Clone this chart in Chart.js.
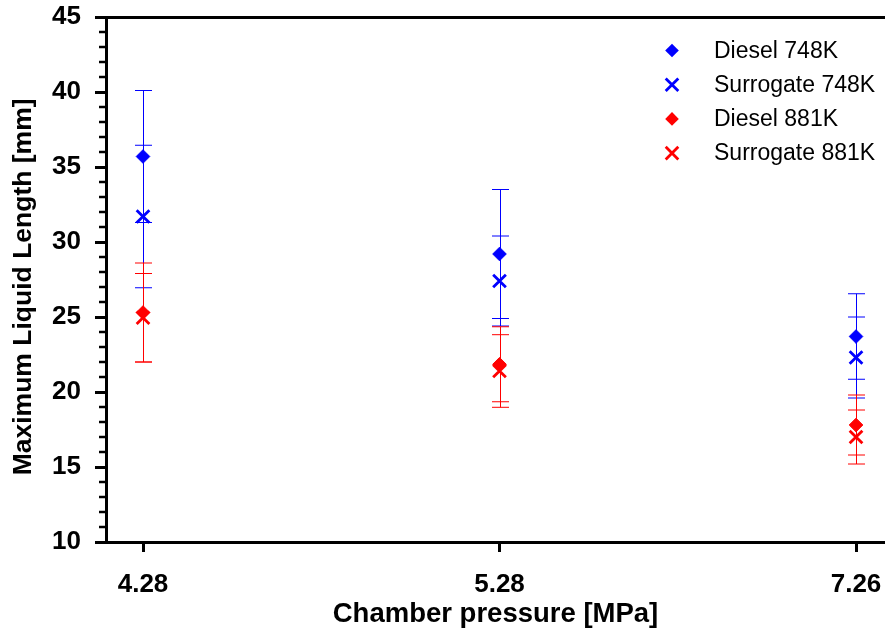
<!DOCTYPE html>
<html>
<head>
<meta charset="utf-8">
<script src="https://cdn.jsdelivr.net/npm/chart.js@4/dist/chart.umd.min.js"></script>
<style>
  html, body { margin: 0; padding: 0; background: #fff; overflow: hidden; }
  #wrap { width: 885px; height: 633px; }
  canvas { display: block; }
</style>
</head>
<body>
<div id="wrap"><canvas id="c" width="885" height="633"></canvas></div>
<script>
// Chamber pressures (categories on the x axis)
const pressureLabels = ['4.28', '5.28', '7.26'];

// Maximum liquid length [mm] and its standard deviation, per fuel / ambient temperature
const diesel748 = [35.7, 29.2, 23.7];
const diesel748Err = [4.4, 4.3, 2.85];
const surrogate748 = [31.7, 27.4, 22.3];
const surrogate748Err = [4.75, 3.0, 2.7];
const diesel881 = [25.3, 21.85, 17.8];
const diesel881Err = [3.3, 2.5, 2.0];
const surrogate881 = [24.95, 21.4, 17.0];
const surrogate881Err = [2.95, 2.42, 1.8];

const FONT = "'Liberation Sans', Arial, Helvetica, sans-serif";
const BLUE = '#0000ff';
const RED = '#ff0000';

function toPoints(values) {
  return values.map((v, i) => ({ x: i, y: v }));
}

function series(label, values, errors, color, style) {
  const diamond = style === 'rectRot';
  return {
    label,
    data: toPoints(values),
    errors,
    showLine: false,
    pointStyle: style,
    pointRadius: diamond ? 6.8 : 9,
    pointHoverRadius: diamond ? 6.8 : 9,
    pointBorderWidth: diamond ? 1 : 2.8,
    pointBackgroundColor: color,
    pointBorderColor: color,
    borderColor: color,
    backgroundColor: color
  };
}

// Vertical error bars with caps, drawn beneath the markers
const errorBars = {
  id: 'errorBars',
  beforeDatasetsDraw(chart) {
    const { ctx, scales: { x, y } } = chart;
    const cap = 8.5;
    ctx.save();
    ctx.lineWidth = 1;
    chart.data.datasets.forEach((ds) => {
      ctx.strokeStyle = ds.borderColor;
      ds.data.forEach((p, j) => {
        const e = ds.errors[j];
        // keep the 1px stems on whole device pixels
        const px = Math.round(x.getPixelForValue(p.x)) + 0.5;
        const top = y.getPixelForValue(p.y + e);
        const bot = y.getPixelForValue(p.y - e);
        ctx.beginPath();
        ctx.moveTo(px, top); ctx.lineTo(px, bot);
        ctx.moveTo(px - cap, top); ctx.lineTo(px + cap, top);
        ctx.moveTo(px - cap, bot); ctx.lineTo(px + cap, bot);
        ctx.stroke();
      });
    });
    ctx.restore();
  }
};

// Minor ticks (every 1 mm) on the left axis
const minorTicks = {
  id: 'minorTicks',
  afterDraw(chart) {
    const { ctx, scales: { y } } = chart;
    const x0 = chart.chartArea.left;
    ctx.save();
    ctx.strokeStyle = '#000';
    ctx.lineWidth = 2.5;
    for (let v = y.min + 1; v < y.max; v++) {
      if (v % 5 === 0) continue;
      const py = y.getPixelForValue(v);
      ctx.beginPath();
      ctx.moveTo(x0 - 7, py);
      ctx.lineTo(x0, py);
      ctx.stroke();
    }
    ctx.restore();
  }
};

// Legend in the upper right corner of the plot
const cornerLegend = {
  id: 'cornerLegend',
  afterDraw(chart) {
    const { ctx } = chart;
    const mx = 672, tx = 714, y0 = 50.5, dy = 34.2;
    ctx.save();
    ctx.font = '23px ' + FONT;
    ctx.textBaseline = 'middle';
    ctx.textAlign = 'left';
    chart.data.datasets.forEach((ds, i) => {
      const cy = y0 + i * dy;
      const c = ds.borderColor;
      ctx.fillStyle = c;
      ctx.strokeStyle = c;
      if (ds.pointStyle === 'rectRot') {
        const r = 6.8;
        ctx.beginPath();
        ctx.moveTo(mx, cy - r); ctx.lineTo(mx + r, cy);
        ctx.lineTo(mx, cy + r); ctx.lineTo(mx - r, cy);
        ctx.closePath();
        ctx.fill();
      } else {
        const r = 6.3;
        ctx.lineWidth = 2.8;
        ctx.beginPath();
        ctx.moveTo(mx - r, cy - r); ctx.lineTo(mx + r, cy + r);
        ctx.moveTo(mx + r, cy - r); ctx.lineTo(mx - r, cy + r);
        ctx.stroke();
      }
      ctx.fillStyle = '#000';
      ctx.fillText(ds.label, tx, cy + 1);
    });
    ctx.restore();
  }
};

new Chart(document.getElementById('c'), {
  type: 'scatter',
  data: {
    datasets: [
      series('Diesel 748K', diesel748, diesel748Err, BLUE, 'rectRot'),
      series('Surrogate 748K', surrogate748, surrogate748Err, BLUE, 'crossRot'),
      series('Diesel 881K', diesel881, diesel881Err, RED, 'rectRot'),
      series('Surrogate 881K', surrogate881, surrogate881Err, RED, 'crossRot')
    ]
  },
  options: {
    responsive: false,
    animation: false,
    devicePixelRatio: 1,
    layout: { autoPadding: false, padding: { top: 17, right: 0, left: 0, bottom: 0 } },
    plugins: {
      legend: { display: false },
      tooltip: { enabled: false }
    },
    scales: {
      x: {
        type: 'linear',
        min: -0.1038,
        max: 2.0813,
        afterBuildTicks(scale) {
          scale.ticks = pressureLabels.map((_, i) => ({ value: i }));
        },
        afterFit(scale) {
          scale.height = 91;
          scale.paddingLeft = 0;
          scale.paddingRight = 0;
        },
        ticks: {
          callback: (v) => pressureLabels[v],
          color: '#000',
          padding: 17,
          autoSkip: false,
          maxRotation: 0,
          font: { family: FONT, size: 26, weight: 'bold' }
        },
        grid: {
          drawOnChartArea: false,
          tickLength: 10,
          tickWidth: 3,
          tickColor: '#000'
        },
        border: { color: '#000', width: 3 },
        title: {
          display: true,
          text: 'Chamber pressure [MPa]',
          color: '#000',
          padding: { top: 0, bottom: 2 },
          font: { family: FONT, size: 27.5, weight: 'bold' }
        }
      },
      y: {
        min: 10,
        max: 45,
        afterFit(scale) {
          scale.width = 106;
          scale.paddingTop = 0;
          scale.paddingBottom = 0;
        },
        ticks: {
          stepSize: 5,
          color: '#000',
          padding: 14,
          font: { family: FONT, size: 26, weight: 'bold' }
        },
        grid: {
          color: (ctx) => (ctx.tick && ctx.tick.value === 45 ? '#000' : 'rgba(0,0,0,0)'),
          lineWidth: 3,
          tickLength: 11,
          tickWidth: 3,
          tickColor: '#000'
        },
        border: { color: '#000', width: 3 },
        title: {
          display: true,
          text: 'Maximum Liquid Length [mm]  ',
          color: '#000',
          padding: { top: 8, bottom: 0 },
          font: { family: FONT, size: 26.5, weight: 'bold' }
        }
      }
    }
  },
  plugins: [errorBars, minorTicks, cornerLegend]
});
</script>
</body>
</html>
